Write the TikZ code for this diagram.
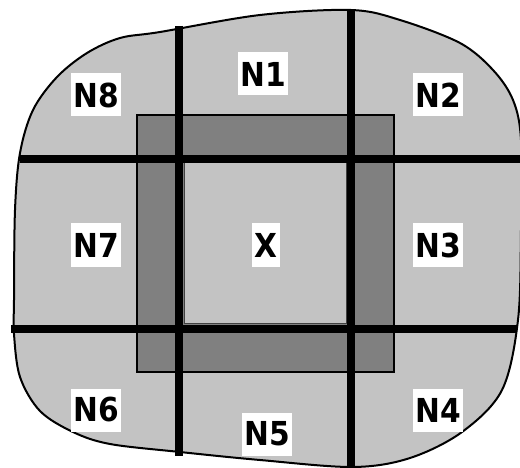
\documentclass[tikz,border=0pt]{standalone}
\usepackage{fontspec}
\newfontfamily\labelfont{DejaVu Sans Condensed Bold}
\definecolor{regionfill}{HTML}{C3C3C3}
\definecolor{bandfill}{HTML}{808080}
\tikzset{
  region/.style={fill=white,inner xsep=2.5pt,minimum height=43pt,font=\labelfont\fontsize{33}{33}\selectfont},
  cut/.style={line width=8pt},
}

\begin{document}
\begin{tikzpicture}[x=1pt,y=-1pt]
  \useasboundingbox (0,0) rectangle (520,468);
  % the whole region
  \begin{scope}
    \clip (0,0) rectangle (520,468);
    \draw[line width=2pt,fill=regionfill] plot[smooth cycle,tension=0.55] coordinates {
      (14,300) (15,210) (20,153) (33,110) (57,77) (87,53) (120,38) (160,32)
      (260,15) (351,10) (400,20) (460,43) (493,70) (513,100) (521,140)
      (521,230) (518,320) (502,390) (462,432) (410,458) (353,467)
      (260,460) (180,452) (110,444) (73,432) (40,411) (20,377) (14,334)};
  \end{scope}
  % band round X
  \draw[line width=1.5pt,fill=bandfill] (137,115) rectangle (394,372);
  \draw[line width=1pt,draw=bandfill!50!black,fill=regionfill] (184,163) rectangle (346,323);
  % cut lines
  \draw[cut] (179,26) -- (179,456);
  \draw[cut] (351,10) -- (351,467);
  \draw[cut] (20,159) -- (520,159);
  \draw[cut] (11,329) -- (517,329);
  % labels
  \node[region] (x) at (266,245) {X};
  \node[region] (n1) at (263,74) {N1};
  \node[region] (n2) at (438,95) {N2};
  \node[region] (n3) at (438,245) {N3};
  \node[region] (n4) at (438,410) {N4};
  \node[region] (n5) at (267,434) {N5};
  \node[region] (n6) at (96,410) {N6};
  \node[region] (n7) at (96,245) {N7};
  \node[region] (n8) at (96,95) {N8};
\end{tikzpicture}
\end{document}
